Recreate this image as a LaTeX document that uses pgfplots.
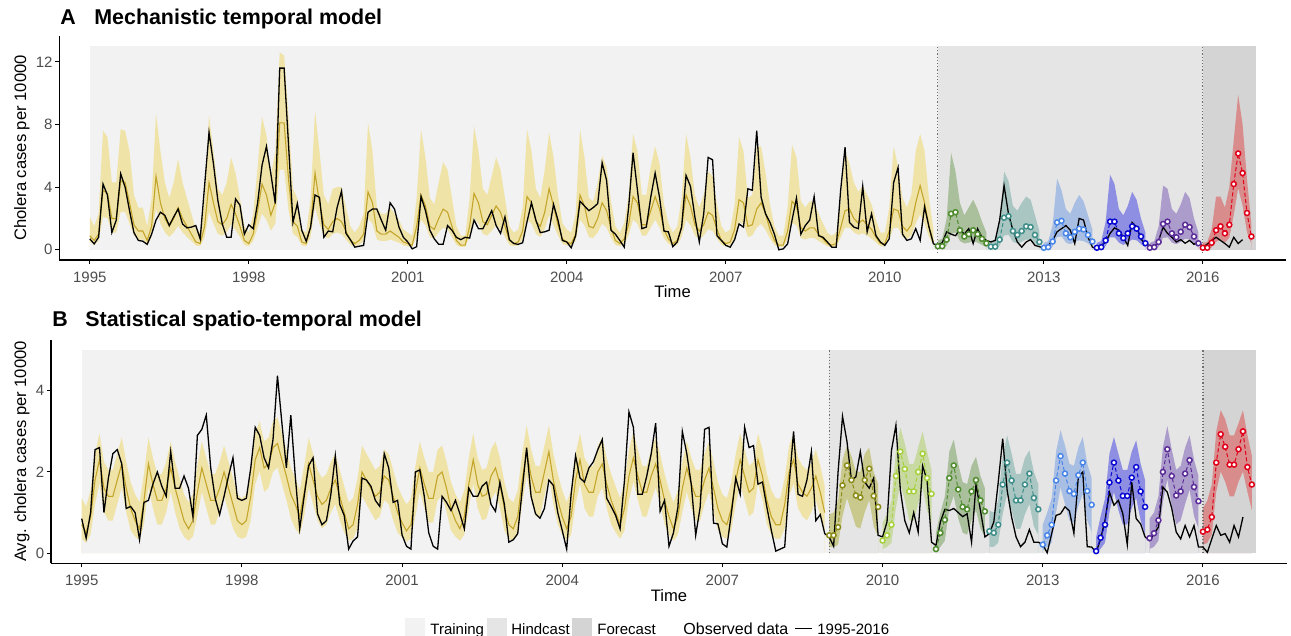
\documentclass[border=0pt]{standalone}
\usepackage{fontspec}
\setmainfont{Liberation Sans}
\usepackage{pgfplots}
\pgfplotsset{compat=1.18}
\usepackage{pgfplotstable}
\definecolor{bgTrain}{HTML}{F2F2F2}
\definecolor{bgHind}{HTML}{E5E5E5}
\definecolor{bgFore}{HTML}{D4D4D4}
\definecolor{trainband}{HTML}{F0E3A8}
\definecolor{trainline}{HTML}{C4A52B}
\definecolor{tickgray}{HTML}{4D4D4D}
\definecolor{dotgray}{HTML}{707070}
\definecolor{cOlive}{HTML}{8C8C1A}\definecolor{bOlive}{HTML}{C9C98E}
\definecolor{cLime}{HTML}{A6D13C}\definecolor{bLime}{HTML}{C8DAA2}
\definecolor{cGreen}{HTML}{4E8C2E}\definecolor{bGreen}{HTML}{AABF9B}
\definecolor{cTeal}{HTML}{3F8E89}\definecolor{bTeal}{HTML}{A9C6C3}
\definecolor{cLBlue}{HTML}{4A86E8}\definecolor{bLBlue}{HTML}{A9BEE3}
\definecolor{cBlue}{HTML}{0A0AD2}\definecolor{bBlue}{HTML}{8E8FE3}
\definecolor{cPurple}{HTML}{5B2C98}\definecolor{bPurple}{HTML}{AC9CCB}
\definecolor{cRed}{HTML}{E0001A}\definecolor{bRed}{HTML}{D88C8C}
\newcommand\tickfont{\fontsize{7.5}{9}\selectfont}
\newcommand\titfont{\fontsize{10.7}{12}\selectfont\bfseries}
\newcommand\labfont{\fontsize{8.3}{10}\selectfont}

% ---------------- Panel A data ----------------
\pgfplotstableread[row sep=\\]{i v\\
0 0.7\\1 0.38\\2 0.8\\3 4.2\\4 3.5\\5 1.1\\6 1.9\\7 4.85\\8 4.0\\9 2.5\\10 1.1\\11 0.6\\
12 0.55\\13 0.35\\14 1.0\\15 1.9\\16 2.4\\17 2.2\\18 1.55\\19 2.1\\20 2.6\\21 1.65\\22 1.4\\23 1.45\\
24 1.55\\25 0.7\\26 4.1\\27 7.5\\28 5.5\\29 3.15\\30 1.65\\31 0.8\\32 0.8\\33 3.25\\34 2.85\\35 1.0\\
36 1.6\\37 1.35\\38 3.0\\39 5.4\\40 6.6\\41 4.85\\42 2.95\\43 11.6\\44 11.6\\45 6.7\\46 1.75\\47 2.95\\
48 1.25\\49 0.55\\50 1.45\\51 3.5\\52 3.35\\53 0.8\\54 1.2\\55 1.15\\56 2.7\\57 3.75\\58 1.05\\59 0.65\\
60 0.17\\61 0.23\\62 0.28\\63 2.4\\64 2.6\\65 2.6\\66 1.9\\67 1.25\\68 3.0\\69 2.6\\70 1.45\\71 0.8\\
72 0.5\\73 0.06\\74 0.2\\75 3.4\\76 2.5\\77 1.25\\78 0.7\\79 0.35\\80 0.35\\81 1.55\\82 1.25\\83 0.8\\
84 0.65\\85 0.8\\86 0.75\\87 1.9\\88 1.35\\89 1.35\\90 1.9\\91 2.5\\92 1.55\\93 1.05\\94 2.1\\95 0.65\\
96 0.4\\97 0.35\\98 0.45\\99 1.8\\100 3.0\\101 1.9\\102 1.1\\103 1.15\\104 1.25\\105 2.9\\106 1.9\\107 0.6\\
108 0.5\\109 0.13\\110 0.9\\111 3.1\\112 2.8\\113 2.5\\114 2.7\\115 2.95\\116 5.55\\117 4.45\\118 1.25\\119 1.0\\
120 0.6\\121 0.17\\122 2.7\\123 6.2\\124 3.8\\125 1.35\\126 1.45\\127 3.35\\128 4.9\\129 3.35\\130 1.2\\131 1.15\\
132 0.2\\133 0.5\\134 1.45\\135 4.75\\136 4.05\\137 2.1\\138 0.5\\139 2.3\\140 5.9\\141 5.75\\142 0.9\\143 0.6\\
144 0.28\\145 0.17\\146 0.65\\147 1.65\\148 1.45\\149 3.9\\150 3.8\\151 7.6\\152 3.35\\153 2.3\\154 1.75\\155 1.0\\
156 0.0\\157 0.06\\158 0.38\\159 1.9\\160 3.3\\161 1.0\\162 1.55\\163 1.9\\164 3.4\\165 0.9\\166 0.8\\167 0.5\\
168 0.17\\169 0.17\\170 3.8\\171 6.55\\172 1.75\\173 1.45\\174 1.35\\175 4.05\\176 1.15\\177 2.3\\178 0.9\\179 0.5\\
180 0.28\\181 0.7\\182 4.3\\183 5.25\\184 1.0\\185 0.6\\186 0.7\\187 1.35\\188 0.6\\189 2.75\\190 1.45\\191 0.38\\
192 0.3\\193 0.45\\194 1.15\\195 1.0\\196 0.9\\197 1.3\\198 1.0\\199 1.35\\200 0.4\\201 1.35\\202 0.8\\203 0.6\\
204 0.5\\205 0.6\\206 1.9\\207 4.1\\208 2.3\\209 1.25\\210 0.5\\211 0.17\\212 0.5\\213 0.65\\214 0.28\\215 0.2\\
216 0.1\\217 0.28\\218 0.6\\219 1.15\\220 1.35\\221 1.55\\222 1.25\\223 0.4\\224 2.0\\225 1.9\\226 0.8\\227 0.17\\
228 0.06\\229 0.28\\230 0.5\\231 1.05\\232 1.4\\233 1.25\\234 0.8\\235 0.28\\236 1.75\\237 1.45\\238 0.7\\239 0.35\\
240 0.28\\241 0.17\\242 0.6\\243 1.45\\244 1.05\\245 0.8\\246 0.5\\247 0.65\\248 0.42\\249 0.6\\250 0.35\\251 0.5\\
252 0.2\\253 0.35\\254 0.6\\255 0.8\\256 0.6\\257 0.4\\258 0.17\\259 0.8\\260 0.4\\261 0.65\\
}\Aobs

\pgfplotstableread[row sep=\\]{i m lo hi\\
0 0.9 0.5 2.1\\1 0.6 0.3 1.5\\2 1.0 0.55 2.3\\3 3.8 2.1 7.6\\4 3.6 2.0 7.2\\5 2.0 1.1 4.3\\
6 2.0 1.1 4.3\\7 4.4 2.4 7.7\\8 4.3 2.4 7.6\\9 3.0 1.65 6.3\\10 1.6 0.9 3.5\\11 1.2 0.65 2.7\\
12 1.2 0.65 2.7\\13 0.6 0.3 1.5\\14 1.5 0.8 3.3\\15 4.7 2.6 8.7\\16 3.0 1.65 6.3\\17 2.0 1.1 4.3\\
18 1.5 0.8 3.3\\19 2.0 1.1 4.3\\20 2.7 1.5 5.8\\21 2.0 1.1 4.3\\22 1.5 0.8 3.3\\23 1.0 0.55 2.3\\
24 0.5 0.27 1.3\\25 0.4 0.22 1.1\\26 1.5 0.8 3.3\\27 4.3 2.4 8.6\\28 3.0 1.65 6.3\\29 1.8 1.0 3.9\\
30 1.6 0.9 3.5\\31 2.0 1.1 4.3\\32 2.9 1.6 5.9\\33 2.3 1.25 4.9\\34 1.5 0.8 3.3\\35 0.6 0.3 1.5\\
36 0.4 0.22 1.1\\37 1.0 0.55 2.3\\38 2.5 1.4 5.3\\39 4.2 2.3 8.5\\40 3.5 1.9 7.3\\41 2.2 1.2 4.7\\
42 3.0 1.65 6.3\\43 8.1 5.1 12.6\\44 8.1 5.1 12.4\\45 4.5 2.5 8.5\\46 1.8 1.0 3.9\\47 1.5 0.8 3.3\\
48 0.5 0.27 1.3\\49 0.4 0.22 1.1\\50 1.5 0.8 3.3\\51 4.9 2.7 8.9\\52 3.0 1.65 6.3\\53 1.6 0.9 3.5\\
54 1.3 0.7 2.9\\55 1.8 1.0 3.9\\56 2.0 1.1 4.0\\57 1.8 1.0 4.0\\58 1.2 0.65 2.7\\59 0.6 0.3 1.5\\
60 0.4 0.22 1.1\\61 0.6 0.3 1.5\\62 1.0 0.55 2.3\\63 3.7 2.0 8.1\\64 3.0 1.65 6.3\\65 1.2 0.65 2.7\\
66 1.0 0.55 2.3\\67 1.0 0.55 2.3\\68 1.2 0.65 2.7\\69 1.0 0.55 2.3\\70 0.8 0.45 1.9\\71 0.5 0.27 1.3\\
72 0.4 0.22 1.1\\73 0.3 0.17 0.9\\74 1.5 0.8 3.3\\75 3.5 1.9 7.7\\76 2.8 1.55 5.9\\77 1.5 0.8 3.3\\
78 1.3 0.7 2.9\\79 2.0 1.1 4.3\\80 2.6 1.4 5.6\\81 2.4 1.3 5.1\\82 1.5 0.8 3.3\\83 0.6 0.3 1.5\\
84 0.3 0.17 0.9\\85 0.3 0.17 0.9\\86 1.5 0.8 3.3\\87 3.6 2.0 7.9\\88 3.0 1.65 6.3\\89 1.8 1.0 3.9\\
90 1.6 0.9 3.5\\91 2.2 1.2 4.7\\92 2.8 1.55 5.9\\93 2.4 1.3 5.1\\94 1.5 0.8 3.3\\95 0.6 0.3 1.5\\
96 0.4 0.22 1.1\\97 0.5 0.27 1.3\\98 1.2 0.65 2.7\\99 3.4 1.9 7.7\\100 3.0 1.65 6.3\\101 1.8 1.0 3.9\\
102 1.5 0.8 3.3\\103 2.4 1.3 5.1\\104 3.9 2.2 7.5\\105 2.8 1.55 5.9\\106 1.6 0.9 3.5\\107 0.7 0.38 1.7\\
108 0.5 0.27 1.3\\109 0.4 0.22 1.1\\110 1.0 0.55 2.3\\111 3.5 1.9 7.7\\112 2.8 1.55 5.9\\113 1.5 0.8 3.3\\
114 1.4 0.75 3.1\\115 2.0 1.1 4.3\\116 3.0 1.65 6.0\\117 2.5 1.4 5.3\\118 1.4 0.75 3.1\\119 0.6 0.3 1.5\\
120 0.4 0.22 1.1\\121 0.7 0.38 1.7\\122 1.6 0.9 3.5\\123 3.4 1.9 7.4\\124 3.0 1.65 6.3\\125 1.6 0.9 3.5\\
126 1.6 0.9 3.5\\127 2.5 1.4 5.3\\128 3.4 1.9 6.6\\129 2.6 1.4 5.5\\130 1.3 0.7 2.9\\131 0.7 0.38 1.7\\
132 0.4 0.22 1.1\\133 0.6 0.3 1.5\\134 1.5 0.8 3.3\\135 3.5 1.9 7.4\\136 2.8 1.55 5.9\\137 1.6 0.9 3.5\\
138 1.2 0.65 2.7\\139 1.6 0.9 3.5\\140 2.4 1.3 5.0\\141 2.2 1.2 4.7\\142 1.3 0.7 2.9\\143 0.6 0.3 1.5\\
144 0.4 0.22 1.1\\145 0.5 0.27 1.3\\146 1.3 0.7 2.9\\147 3.2 1.75 7.2\\148 3.0 1.65 6.3\\149 1.5 0.8 3.3\\
150 1.6 0.9 3.5\\151 2.6 1.4 6.6\\152 3.0 1.65 6.6\\153 2.3 1.25 4.9\\154 1.3 0.7 2.9\\155 0.6 0.3 1.5\\
156 0.3 0.17 0.9\\157 0.3 0.17 0.9\\158 1.2 0.65 2.7\\159 3.1 1.7 6.7\\160 2.8 1.55 5.9\\161 1.4 0.75 3.1\\
162 1.2 0.65 2.7\\163 1.4 0.75 3.1\\164 1.4 0.75 3.1\\165 1.0 0.55 2.3\\166 0.7 0.38 1.7\\167 0.4 0.22 1.1\\
168 0.3 0.17 0.9\\169 0.4 0.22 1.1\\170 1.4 0.75 3.1\\171 2.5 1.4 6.3\\172 2.6 1.4 5.5\\173 2.0 1.1 4.3\\
174 1.7 0.95 3.7\\175 1.9 1.05 4.1\\176 1.6 0.9 3.5\\177 1.3 0.7 2.9\\178 0.8 0.45 1.9\\179 0.4 0.22 1.1\\
180 0.4 0.22 1.1\\181 1.2 0.65 2.7\\182 2.6 1.4 6.6\\183 2.5 1.4 5.3\\184 1.5 0.8 3.3\\185 1.2 0.65 2.7\\
186 1.6 0.9 3.5\\187 3.0 1.65 6.3\\188 4.1 2.25 7.4\\189 3.0 1.65 6.3\\190 1.5 0.8 3.3\\191 0.5 0.27 1.3\\
}\Atrain

\pgfplotstableread[row sep=\\]{i m lo hi\\
192 0.23 0.08 0.6\\193 0.23 0.08 0.7\\194 0.65 0.25 2.0\\195 2.3 1.0 6.2\\196 2.4 1.1 5.0\\197 1.25 0.55 3.0\\
198 0.85 0.4 2.2\\199 1.0 0.45 2.7\\200 1.25 0.55 3.2\\201 1.0 0.45 2.6\\202 0.7 0.3 1.8\\203 0.42 0.15 1.1\\}\AhA
\pgfplotstableread[row sep=\\]{i m lo hi\\
204 0.2 0.07 0.6\\205 0.2 0.07 0.6\\206 0.65 0.25 1.9\\207 2.05 0.9 5.0\\208 2.15 0.95 4.4\\209 1.2 0.5 2.8\\
210 0.95 0.4 2.5\\211 1.2 0.5 3.0\\212 1.5 0.65 3.4\\213 1.45 0.6 3.2\\214 0.95 0.4 2.2\\215 0.5 0.18 1.2\\}\AhB
\pgfplotstableread[row sep=\\]{i m lo hi\\
216 0.13 0.04 0.45\\217 0.17 0.06 0.55\\218 0.53 0.2 1.6\\219 1.75 0.8 4.55\\220 1.85 0.85 3.8\\221 1.05 0.45 2.6\\
222 0.8 0.35 2.3\\223 1.15 0.5 3.0\\224 1.35 0.6 3.5\\225 1.3 0.55 3.1\\226 0.95 0.4 2.2\\227 0.53 0.2 1.3\\}\AhC
\pgfplotstableread[row sep=\\]{i m lo hi\\
228 0.13 0.04 0.45\\229 0.17 0.06 0.55\\230 0.6 0.22 1.8\\231 1.8 0.8 4.8\\232 1.8 0.8 4.2\\233 1.05 0.45 2.6\\
234 0.75 0.3 2.2\\235 1.05 0.45 2.8\\236 1.5 0.65 3.7\\237 1.35 0.6 3.2\\238 0.85 0.35 2.0\\239 0.42 0.15 1.1\\}\AhD
\pgfplotstableread[row sep=\\]{i m lo hi\\
240 0.13 0.04 0.45\\241 0.17 0.06 0.55\\242 0.5 0.2 1.5\\243 1.65 0.75 4.1\\244 1.8 0.8 3.9\\245 1.05 0.45 2.6\\
246 0.8 0.35 2.3\\247 1.15 0.5 2.9\\248 1.6 0.7 3.7\\249 1.45 0.65 3.3\\250 0.85 0.35 2.0\\251 0.42 0.15 1.1\\}\AhE
\pgfplotstableread[row sep=\\]{i m lo hi\\
252 0.13 0.04 0.45\\253 0.13 0.04 0.5\\254 0.45 0.15 1.3\\255 1.25 0.5 3.4\\256 1.5 0.65 3.4\\257 1.05 0.45 2.7\\
258 1.6 0.75 4.0\\259 4.2 2.2 7.0\\260 6.15 3.9 9.9\\261 4.9 2.8 8.0\\262 2.35 1.1 4.5\\263 0.85 0.35 1.6\\}\AfF

% ---------------- Panel B data ----------------
\pgfplotstableread[row sep=\\]{i v\\
0 0.85\\1 0.37\\2 1.0\\3 2.55\\4 2.6\\5 1.0\\6 1.85\\7 2.45\\8 2.55\\9 2.2\\10 1.1\\11 1.15\\
12 1.0\\13 0.33\\14 1.25\\15 1.3\\16 1.7\\17 2.0\\18 1.65\\19 1.4\\20 2.5\\21 1.6\\22 1.6\\23 1.9\\
24 1.6\\25 0.9\\26 2.9\\27 3.05\\28 3.4\\29 2.1\\30 1.35\\31 0.95\\32 1.4\\33 1.9\\34 2.35\\35 1.35\\
36 1.3\\37 1.35\\38 2.1\\39 3.1\\40 2.9\\41 2.35\\42 2.1\\43 2.8\\44 4.37\\45 3.2\\46 2.1\\47 3.4\\
48 1.9\\49 0.6\\50 1.4\\51 2.15\\52 2.35\\53 0.97\\54 0.7\\55 0.8\\56 1.45\\57 2.4\\58 1.2\\59 0.93\\
60 0.1\\61 0.3\\62 0.4\\63 1.85\\64 1.8\\65 1.65\\66 1.3\\67 1.15\\68 2.45\\69 2.1\\70 1.25\\71 1.3\\
72 0.45\\73 0.17\\74 0.1\\75 2.0\\76 2.05\\77 1.4\\78 0.5\\79 0.17\\80 0.1\\81 1.4\\82 1.25\\83 1.05\\
84 1.3\\85 0.97\\86 0.6\\87 1.6\\88 1.4\\89 1.4\\90 1.65\\91 1.75\\92 1.2\\93 1.03\\94 1.75\\95 1.2\\
96 0.27\\97 0.33\\98 0.48\\99 1.55\\100 2.6\\101 1.4\\102 0.97\\103 0.86\\104 1.1\\105 1.8\\106 1.67\\107 1.0\\
108 0.56\\109 0.1\\110 1.45\\111 2.4\\112 1.85\\113 1.75\\114 2.1\\115 2.25\\116 2.55\\117 2.8\\118 1.35\\119 1.15\\
120 0.93\\121 0.6\\122 1.8\\123 3.48\\124 3.1\\125 1.45\\126 1.45\\127 1.9\\128 2.45\\129 3.2\\130 1.03\\131 1.3\\
132 0.17\\133 0.5\\134 1.13\\135 3.0\\136 2.45\\137 1.7\\138 0.44\\139 1.13\\140 3.05\\141 3.1\\142 0.74\\143 0.72\\
144 0.23\\145 0.15\\146 0.97\\147 1.85\\148 1.45\\149 3.1\\150 2.6\\151 2.65\\152 1.7\\153 1.75\\154 1.13\\155 0.56\\
156 0.05\\157 0.1\\158 0.15\\159 1.7\\160 3.0\\161 1.45\\162 1.4\\163 1.8\\164 2.5\\165 0.8\\166 0.95\\167 0.48\\
168 0.4\\169 0.17\\170 2.0\\171 3.37\\172 2.75\\173 1.8\\174 1.88\\175 2.5\\176 1.75\\177 1.6\\178 1.85\\179 0.44\\
180 0.4\\181 0.77\\182 2.53\\183 3.15\\184 1.55\\185 0.8\\186 0.5\\187 1.0\\188 0.52\\189 2.15\\190 1.8\\191 0.27\\
192 0.19\\193 0.77\\194 1.08\\195 1.05\\196 1.1\\197 1.0\\198 0.9\\199 0.97\\200 0.27\\201 1.7\\202 1.05\\203 0.4\\
204 0.48\\205 0.77\\206 1.75\\207 2.82\\208 1.55\\209 0.89\\210 0.4\\211 0.16\\212 0.27\\213 0.58\\214 0.27\\215 0.27\\
216 0.21\\217 0.01\\218 0.48\\219 0.93\\220 0.97\\221 1.14\\222 1.04\\223 0.49\\224 1.88\\225 2.0\\226 0.16\\227 0.15\\
228 0.02\\229 0.35\\230 0.81\\231 1.5\\232 1.18\\233 1.3\\234 0.97\\235 0.21\\236 1.75\\237 0.85\\238 0.72\\239 0.4\\
240 0.31\\241 0.48\\242 0.64\\243 1.63\\244 1.5\\245 1.1\\246 0.52\\247 0.35\\248 0.68\\249 0.4\\250 0.68\\251 0.15\\
252 0.15\\253 0.02\\254 0.35\\255 0.68\\256 0.44\\257 0.48\\258 0.27\\259 0.68\\260 0.4\\261 0.89\\
}\Bobs

\pgfplotstableread[row sep=\\]{i m lo hi\\
0 0.7 0.35 1.35\\1 0.5 0.25 1.15\\2 0.9 0.45 1.55\\3 1.8 1.2 2.45\\4 2.3 1.7 2.95\\5 1.6 1.0 2.25\\
6 1.4 0.8 2.05\\7 1.4 0.8 2.05\\8 1.8 1.2 2.45\\9 2.2 1.6 2.85\\10 1.6 1.0 2.25\\11 1.1 0.55 1.75\\
12 0.8 0.4 1.45\\13 0.6 0.3 1.25\\14 1.3 0.7 1.95\\15 2.2 1.6 2.85\\16 1.7 1.1 2.35\\17 1.3 0.7 1.95\\
18 1.3 0.7 1.95\\19 1.6 1.0 2.25\\20 2.1 1.5 2.75\\21 1.6 1.0 2.25\\22 1.2 0.6 1.85\\23 0.8 0.4 1.45\\
24 0.6 0.3 1.25\\25 0.8 0.4 1.45\\26 1.5 0.9 2.15\\27 2.1 1.5 2.75\\28 1.7 1.1 2.35\\29 1.3 0.7 1.95\\
30 1.3 0.7 1.95\\31 1.6 1.0 2.25\\32 2.0 1.4 2.65\\33 1.6 1.0 2.25\\34 1.2 0.6 1.85\\35 0.8 0.4 1.45\\
36 0.7 0.35 1.35\\37 0.8 0.4 1.45\\38 1.4 0.8 2.05\\39 2.3 1.7 2.95\\40 2.6 2.0 3.25\\41 2.1 1.5 2.75\\
42 2.2 1.6 2.85\\43 2.6 2.0 3.25\\44 2.7 2.1 3.35\\45 2.3 1.7 2.95\\46 1.9 1.3 2.55\\47 1.45 0.85 2.1\\
48 1.2 0.6 1.85\\49 0.9 0.45 1.55\\50 1.5 0.9 2.15\\51 2.2 1.6 2.85\\52 1.8 1.2 2.45\\53 1.4 0.8 2.05\\
54 1.2 0.6 1.85\\55 1.3 0.7 1.95\\56 1.6 1.0 2.25\\57 1.8 1.2 2.45\\58 1.4 0.8 2.05\\59 1.0 0.5 1.65\\
60 0.6 0.3 1.25\\61 0.7 0.35 1.35\\62 1.2 0.6 1.85\\63 2.0 1.4 2.65\\64 1.8 1.2 2.45\\65 1.6 1.0 2.25\\
66 1.4 0.8 2.05\\67 1.5 0.9 2.15\\68 1.9 1.3 2.55\\69 1.8 1.2 2.45\\70 1.4 0.8 2.05\\71 1.0 0.5 1.65\\
72 0.75 0.38 1.4\\73 0.55 0.28 1.2\\74 0.7 0.35 1.35\\75 1.5 0.9 2.15\\76 2.1 1.5 2.75\\77 1.7 1.1 2.35\\
78 1.35 0.75 2.0\\79 1.35 0.75 2.0\\80 1.9 1.3 2.55\\81 2.0 1.4 2.65\\82 1.6 1.0 2.25\\83 1.1 0.55 1.75\\
84 0.8 0.4 1.45\\85 0.6 0.3 1.25\\86 0.9 0.45 1.55\\87 1.7 1.1 2.35\\88 2.3 1.7 2.95\\89 1.7 1.1 2.35\\
90 1.4 0.8 2.05\\91 1.45 0.85 2.1\\92 1.9 1.3 2.55\\93 2.1 1.5 2.75\\94 1.7 1.1 2.35\\95 1.1 0.55 1.75\\
96 0.7 0.35 1.35\\97 0.6 0.3 1.25\\98 0.9 0.45 1.55\\99 1.8 1.2 2.45\\100 2.5 1.9 3.15\\101 1.9 1.3 2.55\\
102 1.5 0.9 2.15\\103 1.5 0.9 2.15\\104 2.0 1.4 2.65\\105 2.5 1.9 3.15\\106 1.8 1.2 2.45\\107 1.3 0.7 1.95\\
108 0.9 0.45 1.55\\109 0.6 0.3 1.25\\110 0.9 0.45 1.55\\111 1.8 1.2 2.45\\112 2.3 1.7 2.95\\113 1.7 1.1 2.35\\
114 1.5 0.9 2.15\\115 1.5 0.9 2.15\\116 2.0 1.4 2.65\\117 2.2 1.6 2.85\\118 1.7 1.1 2.35\\119 1.3 0.7 1.95\\
120 1.0 0.5 1.65\\121 0.7 0.35 1.35\\122 1.1 0.55 1.75\\123 1.9 1.3 2.55\\124 2.35 1.75 3.0\\125 1.9 1.3 2.55\\
126 1.5 0.9 2.15\\127 1.5 0.9 2.15\\128 1.9 1.3 2.55\\129 2.2 1.6 2.85\\130 1.8 1.2 2.45\\131 1.3 0.7 1.95\\
132 0.9 0.45 1.55\\133 0.6 0.3 1.25\\134 0.9 0.45 1.55\\135 1.6 1.0 2.25\\136 2.1 1.5 2.75\\137 1.7 1.1 2.35\\
138 1.4 0.8 2.05\\139 1.4 0.8 2.05\\140 1.8 1.2 2.45\\141 2.1 1.5 2.75\\142 1.6 1.0 2.25\\143 1.1 0.55 1.75\\
144 0.8 0.4 1.45\\145 0.7 0.35 1.35\\146 1.1 0.55 1.75\\147 1.8 1.2 2.45\\148 2.3 1.7 2.95\\149 1.9 1.3 2.55\\
150 1.5 0.9 2.15\\151 1.6 1.0 2.25\\152 2.3 1.7 2.95\\153 1.9 1.3 2.55\\154 1.3 0.7 1.95\\155 0.9 0.45 1.55\\
156 0.7 0.35 1.35\\157 0.7 0.35 1.35\\158 1.2 0.6 1.85\\159 2.0 1.4 2.65\\160 2.3 1.7 2.95\\161 1.7 1.1 2.35\\
162 1.5 0.9 2.15\\163 1.4 0.8 2.05\\164 1.6 1.0 2.25\\165 1.9 1.3 2.55\\166 1.5 0.9 2.15\\167 1.0 0.5 1.65\\
}\Btrain

\pgfplotstableread[row sep=\\]{i m lo hi\\
168 0.44 0.15 0.95\\169 0.44 0.15 1.0\\170 0.64 0.2 1.3\\171 1.67 0.9 2.3\\172 2.16 1.35 2.65\\173 1.8 1.0 2.4\\
174 1.42 0.65 2.0\\175 1.37 0.6 2.0\\176 1.8 1.0 2.45\\177 2.08 1.3 2.6\\178 1.41 0.65 2.0\\179 1.14 0.4 1.7\\}\BhA
\pgfplotstableread[row sep=\\]{i m lo hi\\
180 0.31 0.1 0.75\\181 0.44 0.15 0.95\\182 0.7 0.25 1.3\\183 1.9 1.1 2.5\\184 2.5 1.7 3.1\\185 2.07 1.3 2.7\\
186 1.52 0.8 2.2\\187 1.52 0.8 2.2\\188 2.0 1.2 2.6\\189 2.45 1.6 3.0\\190 1.85 1.05 2.5\\191 1.46 0.7 2.05\\}\BhB
\pgfplotstableread[row sep=\\]{i m lo hi\\
192 0.1 0.03 0.5\\193 0.5 0.15 1.0\\194 0.82 0.3 1.4\\195 1.85 1.1 2.5\\196 2.16 1.4 2.8\\197 1.57 0.85 2.2\\
198 1.14 0.5 1.75\\199 1.08 0.45 1.7\\200 1.52 0.8 2.15\\201 1.8 1.05 2.37\\202 1.3 0.6 1.9\\203 1.03 0.4 1.6\\}\BhC
\pgfplotstableread[row sep=\\]{i m lo hi\\
204 0.54 0.15 1.05\\205 0.5 0.15 1.0\\206 0.7 0.25 1.3\\207 1.69 0.95 2.4\\208 2.23 1.45 2.9\\209 1.79 1.05 2.45\\
210 1.3 0.6 1.95\\211 1.3 0.6 1.95\\212 1.69 0.95 2.35\\213 1.96 1.2 2.53\\214 1.36 0.65 2.0\\215 1.08 0.45 1.7\\}\BhD
\pgfplotstableread[row sep=\\]{i m lo hi\\
216 0.21 0.05 0.7\\217 0.44 0.15 1.0\\218 0.7 0.25 1.35\\219 1.79 1.0 2.5\\220 2.39 1.6 3.03\\221 1.96 1.2 2.65\\
222 1.53 0.8 2.2\\223 1.46 0.75 2.15\\224 1.92 1.15 2.6\\225 2.23 1.45 2.86\\226 1.53 0.8 2.2\\227 1.19 0.5 1.85\\}\BhE
\pgfplotstableread[row sep=\\]{i m lo hi\\
228 0.05 0.02 0.4\\229 0.38 0.1 0.9\\230 0.7 0.25 1.35\\231 1.74 1.0 2.45\\232 2.23 1.5 2.86\\233 1.79 1.05 2.45\\
234 1.41 0.7 2.05\\235 1.41 0.7 2.05\\236 1.86 1.1 2.5\\237 2.12 1.35 2.78\\238 1.52 0.8 2.2\\239 1.14 0.45 1.8\\}\BhF
\pgfplotstableread[row sep=\\]{i m lo hi\\
240 0.37 0.1 0.85\\241 0.49 0.15 1.0\\242 0.81 0.3 1.4\\243 2.0 1.25 2.6\\244 2.56 1.8 3.13\\245 1.9 1.15 2.55\\
246 1.42 0.7 2.05\\247 1.52 0.8 2.15\\248 1.96 1.2 2.6\\249 2.29 1.55 2.9\\250 1.63 0.9 2.3\\251 1.28 0.6 1.9\\}\BhG
\pgfplotstableread[row sep=\\]{i m lo hi\\
252 0.53 0.2 1.1\\253 0.58 0.25 1.3\\254 0.89 0.45 1.7\\255 2.23 1.5 3.0\\256 2.93 2.0 3.52\\257 2.62 1.75 3.3\\
258 2.18 1.4 2.9\\259 2.18 1.4 2.9\\260 2.56 1.75 3.2\\261 3.0 2.0 3.52\\262 2.12 1.5 2.9\\263 1.69 1.05 2.4\\}\BfH

% band: fill under the upper bound, then cover under the lower bound with the panel background
\newcommand{\band}[3]{%
  \addplot[fill=#2, draw=none, forget plot] table[x=i,y=hi]{#1} \closedcycle;
  \addplot[fill=#3, draw=none, forget plot] table[x=i,y=lo]{#1} \closedcycle;
}
\newcommand{\pts}[2]{%
  \addplot[#2, line width=0.5pt, dash pattern=on 2pt off 1.2pt, mark=*, mark size=1.25pt,
    mark options={solid, fill=white, draw=#2, line width=0.75pt}] table[x=i,y=m]{#1};
}

\pgfplotsset{
  panel/.style={
    scale only axis, anchor=south west,
    axis lines=left, axis line style={-, line width=0.6pt, black},
    tick align=outside, major tick length=2pt, tick style={line width=0.5pt, black},
    xmin=-6.9, xmax=270.9,
    xtick={0,36,72,108,144,180,216,252},
    xticklabels={1995,1998,2001,2004,2007,2010,2013,2016},
    ticklabel style={font=\tickfont, text=tickgray},
    /pgf/number format/assume math mode=true,
    xticklabel style={inner sep=0pt, anchor=north, yshift=-3.6pt},
    yticklabel style={inner sep=0pt, anchor=east, xshift=-1.2pt},
  }
}

\begin{document}
\begin{tikzpicture}
\path[use as bounding box] (0,0) rectangle (645.5pt,-318pt);

% ================= Panel A =================
\begin{axis}[panel, at={(29.65pt,-130pt)}, width=613.5pt, height=112pt,
  ymin=-0.65, ymax=13.65, ytick={0,4,8,12}]
\addplot[fill=bgTrain, draw=none, forget plot] coordinates {(0,13) (192,13)} \closedcycle;
\addplot[fill=bgHind, draw=none, forget plot] coordinates {(192,13) (252,13)} \closedcycle;
\addplot[fill=bgFore, draw=none, forget plot] coordinates {(252,13) (264,13)} \closedcycle;
\band{\Atrain}{trainband}{bgTrain}
\band{\AhA}{bGreen}{bgHind}
\band{\AhB}{bTeal}{bgHind}
\band{\AhC}{bLBlue}{bgHind}
\band{\AhD}{bBlue}{bgHind}
\band{\AhE}{bPurple}{bgHind}
\band{\AfF}{bRed}{bgFore}
\addplot[dotgray, line width=0.6pt, dash pattern=on 0.6pt off 1.0pt, forget plot] coordinates {(192,-0.2) (192,13)};
\addplot[dotgray, line width=0.6pt, dash pattern=on 0.6pt off 1.0pt, forget plot] coordinates {(252,-0.2) (252,13)};
\addplot[trainline, line width=0.55pt] table[x=i,y=m]{\Atrain};
\addplot[black, line width=0.65pt] table[x=i,y=v]{\Aobs};
\pts{\AhA}{cGreen}
\pts{\AhB}{cTeal}
\pts{\AhC}{cLBlue}
\pts{\AhD}{cBlue}
\pts{\AhE}{cPurple}
\pts{\AfF}{cRed}
\end{axis}

% ================= Panel B =================
\begin{axis}[panel, at={(25.5pt,-281.65pt)}, width=618pt, height=111.65pt,
  ymin=-0.25, ymax=5.25, ytick={0,2,4}]
\addplot[fill=bgTrain, draw=none, forget plot] coordinates {(0,5) (168,5)} \closedcycle;
\addplot[fill=bgHind, draw=none, forget plot] coordinates {(168,5) (252,5)} \closedcycle;
\addplot[fill=bgFore, draw=none, forget plot] coordinates {(252,5) (264,5)} \closedcycle;
\band{\Btrain}{trainband}{bgTrain}
\band{\BhA}{bOlive}{bgHind}
\band{\BhB}{bLime}{bgHind}
\band{\BhC}{bGreen}{bgHind}
\band{\BhD}{bTeal}{bgHind}
\band{\BhE}{bLBlue}{bgHind}
\band{\BhF}{bBlue}{bgHind}
\band{\BhG}{bPurple}{bgHind}
\band{\BfH}{bRed}{bgFore}
\addplot[dotgray, line width=0.6pt, dash pattern=on 0.6pt off 1.0pt, forget plot] coordinates {(168,0) (168,5)};
\addplot[dotgray, line width=0.6pt, dash pattern=on 0.6pt off 1.0pt, forget plot] coordinates {(252,0) (252,5)};
\addplot[trainline, line width=0.55pt] table[x=i,y=m]{\Btrain};
\addplot[black, line width=0.65pt] table[x=i,y=v]{\Bobs};
\pts{\BhA}{cOlive}
\pts{\BhB}{cLime}
\pts{\BhC}{cGreen}
\pts{\BhD}{cTeal}
\pts{\BhE}{cLBlue}
\pts{\BhF}{cBlue}
\pts{\BhG}{cPurple}
\pts{\BfH}{cRed}
\end{axis}

% ================= Titles and labels =================
\node[anchor=base west, inner sep=0pt, font=\titfont] at (30pt,-12.5pt) {A};
\node[anchor=base west, inner sep=0pt, font=\titfont] at (47pt,-12.5pt) {Mechanistic temporal model};
\node[anchor=base west, inner sep=0pt, font=\titfont] at (26pt,-163.35pt) {B};
\node[anchor=base west, inner sep=0pt, font=\titfont] at (42.5pt,-163.35pt) {Statistical spatio-temporal model};
\node[anchor=base, inner sep=0pt, font=\labfont] at (336.3pt,-149pt) {Time};
\node[anchor=base, inner sep=0pt, font=\labfont] at (334.5pt,-300.8pt) {Time};
\node[anchor=base, rotate=90, inner sep=0pt, font=\labfont] at (13pt,-74pt) {Cholera cases per 10000};
\node[anchor=base, rotate=90, inner sep=0pt, font=\labfont] at (13pt,-225.75pt) {Avg. cholera cases per 10000};

% ================= Legend =================
\fill[bgTrain] (202.5pt,-309pt) rectangle (212.5pt,-318pt);
\node[anchor=base west, inner sep=0pt, font=\fontsize{7.5}{9}\selectfont] at (215pt,-317pt) {Training};
\fill[bgHind] (243.5pt,-309pt) rectangle (253.5pt,-318pt);
\node[anchor=base west, inner sep=0pt, font=\fontsize{7.5}{9}\selectfont] at (255.5pt,-317pt) {Hindcast};
\fill[bgFore] (286pt,-309pt) rectangle (296pt,-318pt);
\node[anchor=base west, inner sep=0pt, font=\fontsize{7.5}{9}\selectfont] at (298.5pt,-317pt) {Forecast};
\node[anchor=base west, inner sep=0pt, font=\fontsize{8}{9}\selectfont] at (341.5pt,-317pt) {Observed data};
\draw[black, line width=0.55pt] (397.5pt,-314.2pt) -- (406pt,-314.2pt);
\node[anchor=base west, inner sep=0pt, font=\fontsize{7.5}{9}\selectfont] at (408.5pt,-317pt) {1995-2016};
\end{tikzpicture}
\end{document}
